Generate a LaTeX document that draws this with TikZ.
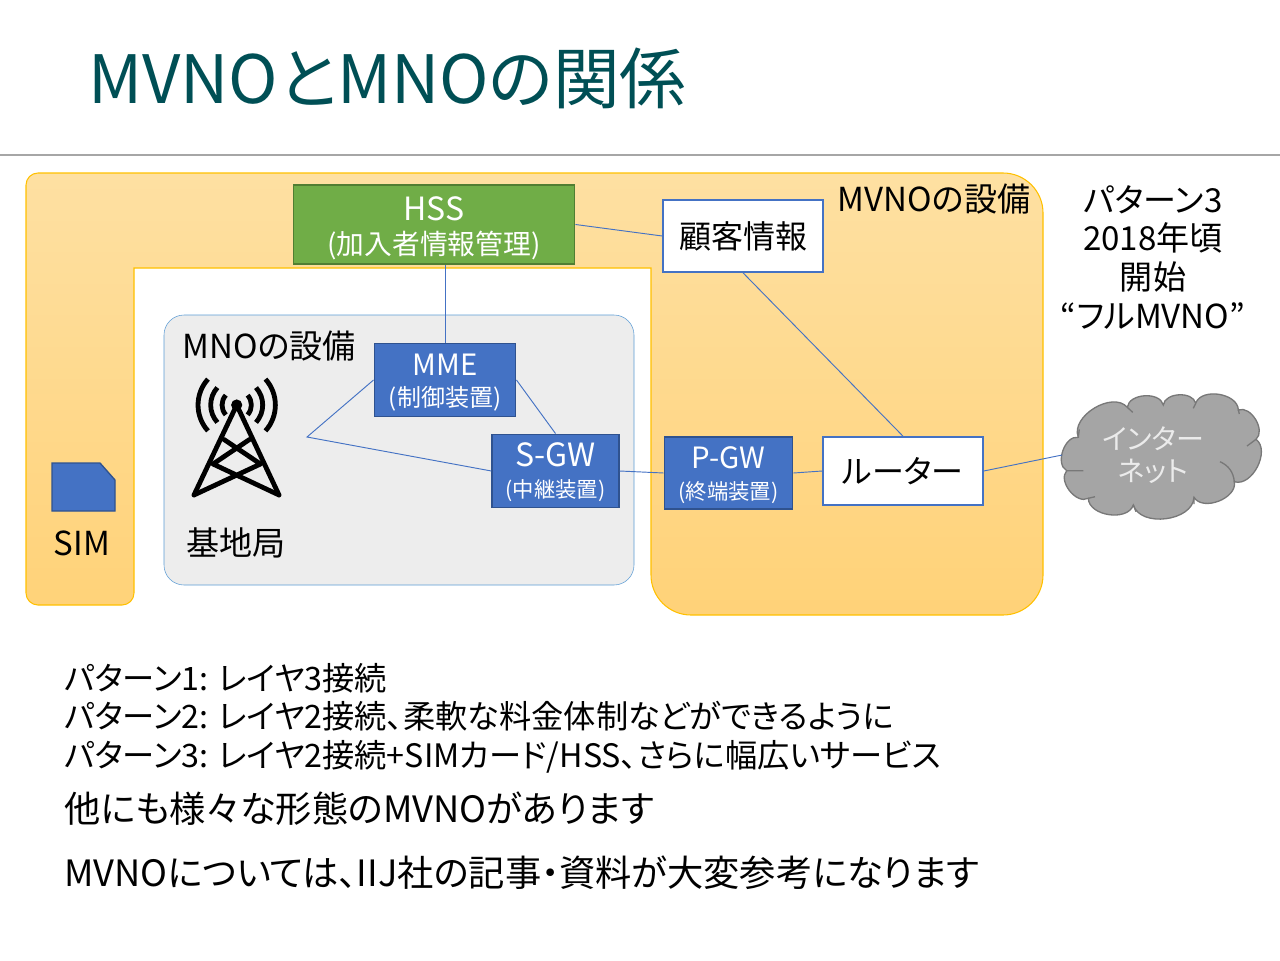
\documentclass[tikz,border=0pt]{standalone}
\usepackage{fontspec}
\setmainfont{Noto Sans CJK JP}[RawFeature=+palt]
\usetikzlibrary{calc}
\newcommand{\fsz}[1]{\fontsize{#1}{#1}\selectfont}

\begin{document}
\begin{tikzpicture}[x=0.75pt,y=-0.75pt,
  label24/.style={inner sep=0pt,font=\fontsize{24.8}{29}\selectfont,align=center},
  bluebox/.style={draw=blueline,fill=bluefill,line width=1.2pt,text=white,inner sep=0pt,align=center,font=\fontsize{16}{23}\selectfont},
  whitebox/.style={draw=bluefill,fill=white,line width=1.2pt,inner sep=0pt,font=\fontsize{24}{29}\selectfont},
  wire/.style={draw=bluefill,line width=0.7pt},
  tower/.style={line width=3.6pt,line cap=round,line join=round,black},
  puff/.style={draw=cloudline,line width=1pt}]
\definecolor{titlecol}{HTML}{004F55}
\definecolor{bluefill}{HTML}{4472C4}
\definecolor{blueline}{HTML}{2F528F}
\definecolor{orangetop}{HTML}{FEE0A2}
\definecolor{orangebot}{HTML}{FFD278}
\definecolor{orangeline}{HTML}{FFC000}
\definecolor{cloudfill}{HTML}{A5A5A5}
\definecolor{cloudline}{HTML}{787878}
\definecolor{hssfill}{HTML}{70AD47}
\definecolor{hssline}{HTML}{507E32}
\definecolor{mnoline}{HTML}{5B9BD5}
\useasboundingbox (0,0) rectangle (1280,960);

\node[anchor=west,inner sep=0pt,text=titlecol,font=\fontsize{50}{60}\selectfont] (title) at (88,78) {MVNOとMNOの関係};
\draw[color=black!35,line width=1pt] (0,155)--(1280,155);

% orange area
\shade[top color=orangetop,bottom color=orangebot,draw=orangeline,line width=0.8pt]
  (134,268) -- (651,268) [rounded corners=30pt] -- (651,615) -- (1043,615) -- (1043,173)
  [rounded corners=9pt] -- (26,173) -- (26,605) -- (134,605) [sharp corners] -- cycle;

% MNO area
\node[draw=mnoline,fill=black!7,rounded corners=15pt,minimum width=352.5pt,minimum height=202.5pt,inner sep=0pt] (mno) at (399,450) {};
\node[label24] (mnolabel) at (269,346) {MNOの設備};
\node[label24] (mvnolabel) at (934,199) {MVNOの設備};
\node[label24] (base) at (236,543) {基地局};
\node[label24] (sim) at (82,543) {SIM};
\node[label24] (pattern) at (1153,257) {パターン3\\2018年頃\\開始\\“フルMVNO”};

% boxes
\node[draw=hssline,fill=hssfill,line width=1.2pt,text=white,inner sep=0pt,align=center,font=\fontsize{20}{27}\selectfont,minimum width=211pt,minimum height=59pt,text depth=0pt] (hss) at (434,224.5)
  {\raisebox{-3pt}{\fsz{24}HSS}\\\raisebox{-1.5pt}{\fsz{20.8}(加入者情報管理)}};
\node[bluebox,minimum width=106pt,minimum height=55pt] (mme) at (445,380)
  {\raisebox{0pt}[20.5pt]{\fsz{22}MME}\\{\fsz{18}(制御装置)}};
\node[bluebox,minimum width=95pt,minimum height=55pt] (sgw) at (555.5,471)
  {\raisebox{0pt}[20pt]{\fsz{24}S-GW}\\{\fsz{16}(中継装置)}};
\node[bluebox,minimum width=96pt,minimum height=54pt] (pgw) at (728.5,473)
  {\raisebox{0pt}[20pt]{\fsz{22}P-GW}\\{\fsz{16}(終端装置)}};
\node[whitebox,minimum width=120pt,minimum height=54pt] (cust) at (743,236) {顧客情報};
\node[whitebox,minimum width=120pt,minimum height=51pt] (router) at (903,471) {ルーター};

% sim card
\draw[draw=blueline,fill=bluefill,line width=1pt] (52,463)--(100,463)--(115,480)--(115,511)--(52,511)--cycle;

% antenna
\coordinate (top) at (236.7,405);
\draw[tower] (194,495)--(top)--(279,495);
\draw[tower] (224,439.5)--(260.5,464) (249.5,439.5)--(213,464) (213,464)--(279,495) (260.5,464)--(194,495);
\fill (top) circle (4.2pt);
\foreach \r in {11,19.5,29}{
  \draw[tower,line cap=butt] ($(top)+(-42:\r pt)$) arc[start angle=-42,end angle=42,radius=\r pt];
  \draw[tower,line cap=butt] ($(top)+(138:\r pt)$) arc[start angle=138,end angle=222,radius=\r pt];
}

% cloud
\draw[puff,fill=cloudfill] (1078.3,437.3) to[bend left=80] (1127.3,407.3) to[bend left=80] (1163.3,405)
  to[bend left=80] (1195.7,403.3) to[bend left=80] (1238.3,410) to[bend left=80] (1256,439.3)
  to[bend left=80] (1234.3,481.7) to[bend left=80] (1194,497.3) to[bend left=80] (1133.3,505)
  to[bend left=80] (1088.3,498.3) to[bend left=80] (1066.7,470.7) to[bend left=80] (1078.3,437.3) -- cycle;
\draw[puff] (1127.3,407.3)--(1132.7,412.3) (1195.7,403.3)--(1193.3,408.3) (1238.3,410)--(1239.3,414)
  (1256,439.3)--(1247,446) (1220,461.7) to[bend left=30] (1234.3,481.7) (1194,497.3)--(1194,504)
  (1133.3,505)--(1136,511.7) (1088.3,498.3)--(1095,496.7) (1066.7,470.7)--(1083.3,470.7) (1078.3,437.3)--(1079.3,429.3);
\node[text=white!92!black,minimum width=136pt,inner sep=0pt,align=center,font=\fontsize{21}{24}\selectfont] (inet) at (1153,455) {インター\\ネット};

% wires
\coordinate (bend) at (307,437);
\draw[wire] (mme.north) -- (mme.north |- hss.south);
\draw[wire] (hss.east) -- (cust.west);
\draw[wire] (cust.south) -- (router.north);
\draw[wire] (mme.east) -- (sgw.north);
\draw[wire] (mme.west) -- (bend) -- (sgw.west);
\draw[wire] (sgw.east) -- (pgw.west);
\draw[wire] (pgw.east) -- (router.west);
\draw[wire] (router.east) -- (inet.west);

% text below
\node[anchor=west,inner sep=0pt,align=left,font=\fontsize{24.2}{29}\selectfont] (lines) at (64,718)
 {パターン1: レイヤ3接続\\パターン2: レイヤ2接続、柔軟な料金体制などができるように\\パターン3: レイヤ2接続+SIMカード/HSS、さらに幅広いサービス};
\node[anchor=west,inner sep=0pt,font=\fontsize{27.2}{32}\selectfont] (other) at (64,809) {他にも様々な形態のMVNOがあります};
\node[anchor=west,inner sep=0pt,font=\fontsize{27.2}{32}\selectfont] (iij) at (64,873) {MVNOについては、IIJ社の記事・資料が大変参考になります};
\end{tikzpicture}
\end{document}
